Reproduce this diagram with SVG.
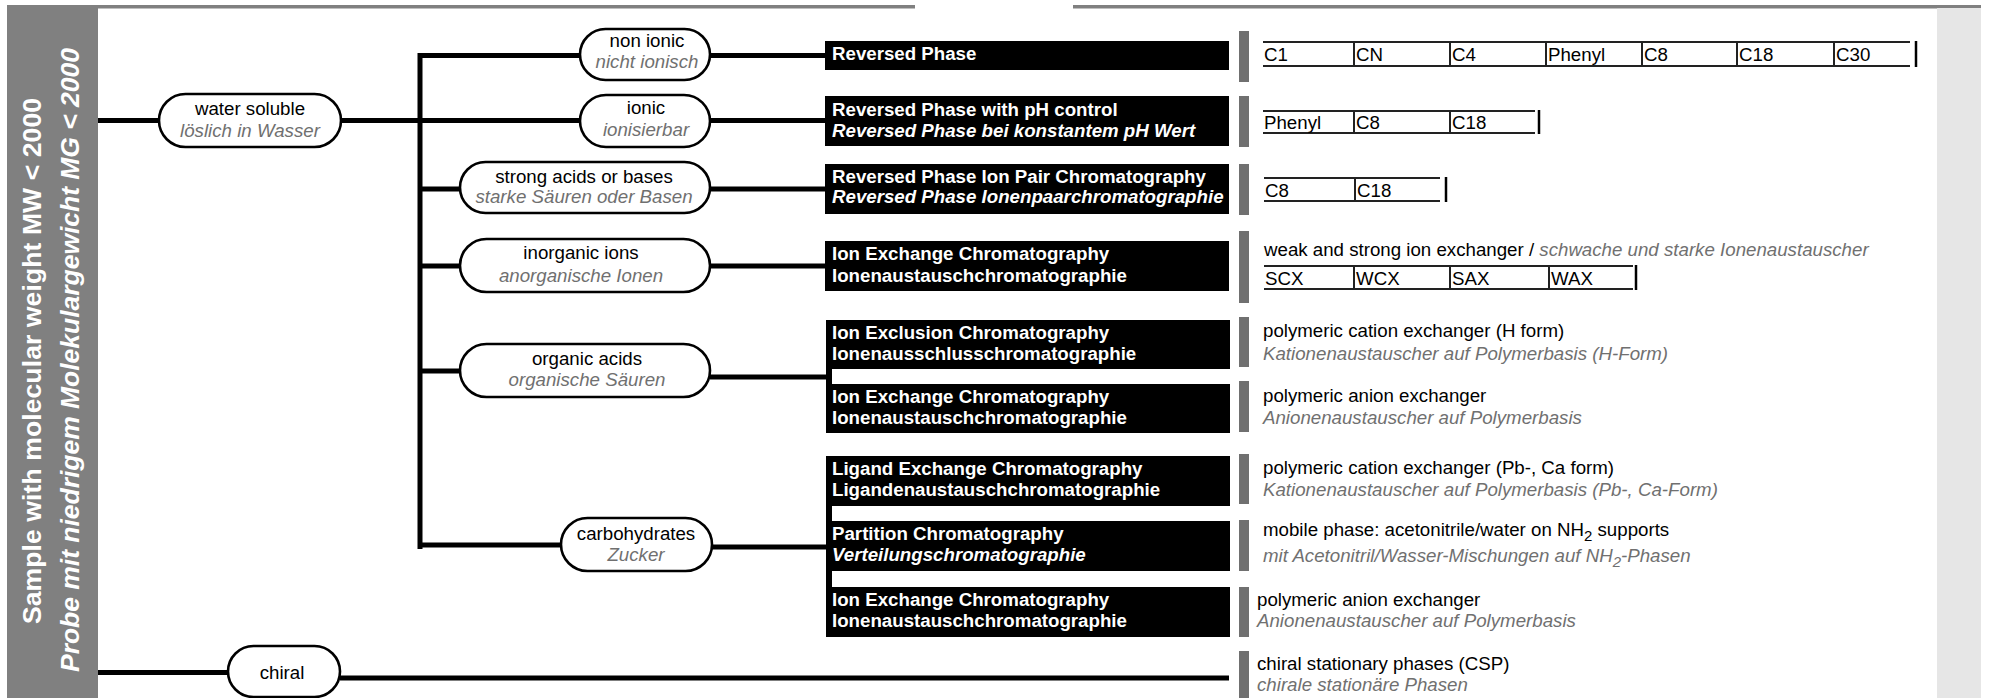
<svg xmlns="http://www.w3.org/2000/svg" width="1998" height="698" viewBox="0 0 1998 698">
<style>
text{font-family:"Liberation Sans",Arial,Helvetica,sans-serif;font-size:18.7px;fill:#000}
.it{font-style:italic;fill:#707070}
.bw{font-weight:bold;fill:#fff}
.bwi{font-weight:bold;font-style:italic;fill:#fff}
.side{font-weight:bold;font-size:26.5px;fill:#fff}
.mid{text-anchor:middle}
.pill{fill:#fff;stroke:#000;stroke-width:2.6}
.box{fill:#000}
.gbar{fill:#707070}
.conn{stroke:#000;stroke-width:5;fill:none}
.tbl{stroke:#222;stroke-width:2;fill:none}
.tend{stroke:#000;stroke-width:2.5;fill:none}
</style>
<rect width="1998" height="698" fill="#fff"/>
<g id="frame">
<rect x="7" y="5" width="908" height="3.5" fill="#808080"/>
<rect x="1073" y="5" width="908" height="3.5" fill="#808080"/>
<rect x="7" y="8" width="91" height="690" fill="#808080"/>
<rect x="1937" y="8" width="44" height="690" fill="#e6e6e6"/>
<text class="side" transform="translate(41,624) rotate(-90)" textLength="526" lengthAdjust="spacing">Sample with molecular weight MW &lt; 2000</text>
<text class="side" transform="translate(79,672) rotate(-90)" textLength="624" lengthAdjust="spacing" style="font-style:italic">Probe mit niedrigem Molekulargewicht MG &lt; 2000</text>
</g>
<g id="connectors">
<path class="conn" d="M98 120.5H159M341 120.5H420"/>
<path class="conn" d="M420 53V549"/>
<path class="conn" d="M420 55.5H580M710 55.5H826"/>
<path class="conn" d="M420 120.5H580M710 120.5H826"/>
<path class="conn" d="M420 189H460M710 189H826"/>
<path class="conn" d="M420 266H460M710 266H826"/>
<path class="conn" d="M420 371H460M710 377H828"/>
<path class="conn" d="M420 545H561M712 547H828"/>
<path class="conn" d="M98 672.5H228M340 678H1229"/>
<rect x="826" y="366" width="6" height="20" fill="#000"/>
<rect x="826" y="504" width="6" height="19" fill="#000"/>
<rect x="826" y="569" width="6" height="20" fill="#000"/>
</g>
<g id="n-water">
<rect class="pill" x="159" y="94" width="182" height="53" rx="26.5"/>
<text class="mid" x="250" y="115">water soluble</text>
<text class="mid it" x="250" y="137">löslich in Wasser</text>
</g>
<g id="n-nonionic">
<rect class="pill" x="580" y="29" width="130" height="51" rx="25.5"/>
<text class="mid" x="647" y="47">non ionic</text>
<text class="mid it" x="647" y="68">nicht ionisch</text>
</g>
<g id="n-ionic">
<rect class="pill" x="580" y="95" width="130" height="52" rx="26"/>
<text class="mid" x="646" y="114">ionic</text>
<text class="mid it" x="646" y="136">ionisierbar</text>
</g>
<g id="n-strong">
<rect class="pill" x="460" y="162" width="250" height="51" rx="25.5"/>
<text class="mid" x="584" y="183">strong acids or bases</text>
<text class="mid it" x="584" y="203">starke Säuren oder Basen</text>
</g>
<g id="n-inorganic">
<rect class="pill" x="460" y="239" width="250" height="53" rx="26.5"/>
<text class="mid" x="581" y="259">inorganic ions</text>
<text class="mid it" x="581" y="282">anorganische Ionen</text>
</g>
<g id="n-organic">
<rect class="pill" x="460" y="344" width="250" height="53" rx="26.5"/>
<text class="mid" x="587" y="365">organic acids</text>
<text class="mid it" x="587" y="386">organische Säuren</text>
</g>
<g id="n-carbo">
<rect class="pill" x="561" y="518" width="151" height="53" rx="26.5"/>
<text class="mid" x="636" y="540">carbohydrates</text>
<text class="mid it" x="636" y="561">Zucker</text>
</g>
<g id="n-chiral">
<rect class="pill" x="228" y="646" width="112" height="51" rx="25.5"/>
<text class="mid" x="282" y="679">chiral</text>
</g>
<g id="b-rp">
<rect class="box" x="825" y="41" width="404" height="29"/>
<text class="bw" x="832" y="60">Reversed Phase</text>
</g>
<g id="b-rpph">
<rect class="box" x="825" y="96" width="404" height="50"/>
<text class="bw" x="832" y="116">Reversed Phase with pH control</text>
<text class="bwi" x="832" y="137">Reversed Phase bei konstantem pH Wert</text>
</g>
<g id="b-rpip">
<rect class="box" x="825" y="164" width="404" height="50"/>
<text class="bw" x="832" y="183">Reversed Phase Ion Pair Chromatography</text>
<text class="bwi" x="832" y="203">Reversed Phase Ionenpaarchromatographie</text>
</g>
<g id="b-iec1">
<rect class="box" x="825" y="241" width="404" height="50"/>
<text class="bw" x="832" y="260">Ion Exchange Chromatography</text>
<text class="bw" x="832" y="282">Ionenaustauschchromatographie</text>
</g>
<g id="b-iexcl">
<rect class="box" x="826" y="320" width="404" height="49"/>
<text class="bw" x="832" y="339">Ion Exclusion Chromatography</text>
<text class="bw" x="832" y="360">Ionenausschlusschromatographie</text>
</g>
<g id="b-iec2">
<rect class="box" x="826" y="384" width="404" height="49"/>
<text class="bw" x="832" y="403">Ion Exchange Chromatography</text>
<text class="bw" x="832" y="424">Ionenaustauschchromatographie</text>
</g>
<g id="b-ligand">
<rect class="box" x="826" y="456" width="404" height="50"/>
<text class="bw" x="832" y="475">Ligand Exchange Chromatography</text>
<text class="bw" x="832" y="496">Ligandenaustauschchromatographie</text>
</g>
<g id="b-partition">
<rect class="box" x="826" y="521" width="404" height="50"/>
<text class="bw" x="832" y="540">Partition Chromatography</text>
<text class="bwi" x="832" y="561">Verteilungschromatographie</text>
</g>
<g id="b-iec3">
<rect class="box" x="826" y="587" width="404" height="50"/>
<text class="bw" x="832" y="606">Ion Exchange Chromatography</text>
<text class="bw" x="832" y="627">Ionenaustauschchromatographie</text>
</g>
<g id="d-rp">
<rect class="gbar" x="1239" y="31" width="10" height="51"/>
<path class="tbl" d="M1263 42H1910M1263 66H1910M1354 42V66M1450 42V66M1546 42V66M1642 42V66M1737 42V66M1834 42V66"/>
<path class="tend" d="M1916 41V67"/>
<text x="1264" y="61">C1</text><text x="1356" y="61">CN</text><text x="1452" y="61">C4</text><text x="1548" y="61">Phenyl</text><text x="1644" y="61">C8</text><text x="1739" y="61">C18</text><text x="1836" y="61">C30</text>
</g>
<g id="d-rpph">
<rect class="gbar" x="1239" y="96" width="10" height="51"/>
<path class="tbl" d="M1263 111H1535M1263 133H1535M1354 111V133M1450 111V133"/>
<path class="tend" d="M1539 110V134"/>
<text x="1264" y="129">Phenyl</text><text x="1356" y="129">C8</text><text x="1452" y="129">C18</text>
</g>
<g id="d-rpip">
<rect class="gbar" x="1239" y="164" width="10" height="51"/>
<path class="tbl" d="M1264 178H1440M1264 201H1440M1355 178V201"/>
<path class="tend" d="M1446 177V202"/>
<text x="1265" y="197">C8</text><text x="1357" y="197">C18</text>
</g>
<g id="d-iec1">
<rect class="gbar" x="1239" y="231" width="10" height="72"/>
<text x="1264" y="256">weak and strong ion exchanger / <tspan class="it">schwache und starke Ionenaustauscher</tspan></text>
<path class="tbl" d="M1264 266H1633M1264 289H1633M1354 266V289M1450 266V289M1549 266V289"/>
<path class="tend" d="M1636 265V290"/>
<text x="1265" y="285">SCX</text><text x="1356" y="285">WCX</text><text x="1452" y="285">SAX</text><text x="1551" y="285">WAX</text>
</g>
<g id="d-iexcl">
<rect class="gbar" x="1239" y="317" width="10" height="50"/>
<text x="1263" y="337">polymeric cation exchanger (H form)</text>
<text class="it" x="1263" y="360">Kationenaustauscher auf Polymerbasis (H-Form)</text>
</g>
<g id="d-iec2">
<rect class="gbar" x="1239" y="381" width="10" height="51"/>
<text x="1263" y="402">polymeric anion exchanger</text>
<text class="it" x="1263" y="424">Anionenaustauscher auf Polymerbasis</text>
</g>
<g id="d-ligand">
<rect class="gbar" x="1239" y="454" width="10" height="50"/>
<text x="1263" y="474">polymeric cation exchanger (Pb-, Ca form)</text>
<text class="it" x="1263" y="496">Kationenaustauscher auf Polymerbasis (Pb-, Ca-Form)</text>
</g>
<g id="d-partition">
<rect class="gbar" x="1239" y="520" width="10" height="51"/>
<text x="1263" y="536">mobile phase: acetonitrile/water on NH<tspan dy="5" font-size="15">2</tspan><tspan dy="-5"> supports</tspan></text>
<text class="it" x="1263" y="562">mit Acetonitril/Wasser-Mischungen auf NH<tspan dy="5" font-size="15">2</tspan><tspan dy="-5">-Phasen</tspan></text>
</g>
<g id="d-iec3">
<rect class="gbar" x="1239" y="587" width="10" height="50"/>
<text x="1257" y="606">polymeric anion exchanger</text>
<text class="it" x="1257" y="627">Anionenaustauscher auf Polymerbasis</text>
</g>
<g id="d-chiral">
<rect class="gbar" x="1239" y="651" width="10" height="47"/>
<text x="1257" y="670">chiral stationary phases (CSP)</text>
<text class="it" x="1257" y="691">chirale stationäre Phasen</text>
</g>
</svg>
